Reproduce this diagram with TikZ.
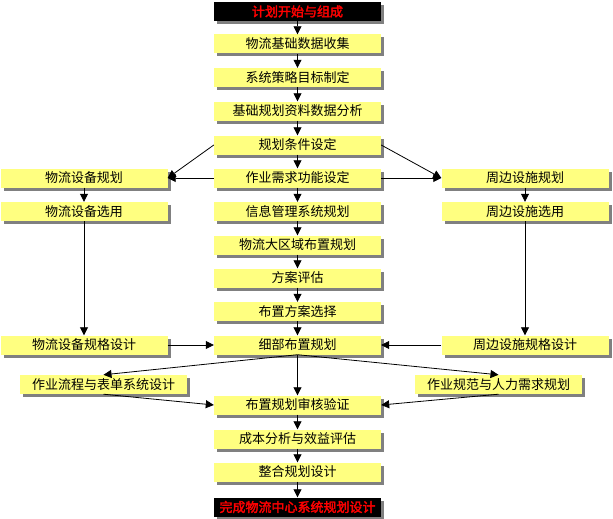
\documentclass[tikz,border=0pt]{standalone}
\usepackage{fontspec}
\newfontfamily\cjk{Noto Sans CJK SC}
\newfontfamily\cjkbold[FakeBold=2.5]{Noto Sans CJK SC}
\usetikzlibrary{arrows.meta,shadows}
\definecolor{boxyellow}{HTML}{FFFF80}
\definecolor{titlered}{HTML}{FF0000}

\begin{document}
\begin{tikzpicture}[x=1pt,y=-1pt,
    box/.style={fill=boxyellow,minimum width=167pt,minimum height=19pt,inner sep=0pt,
      font=\cjk\fontsize{13}{15}\selectfont,
      drop shadow={shadow xshift=3pt,shadow yshift=-3pt,fill=black!50,opacity=1}},
    titlebox/.style={box,fill=black,text=titlered,font=\cjkbold\fontsize{13}{15}\selectfont},
    flow/.style={-{Triangle[width=8pt,length=8pt]},line width=0.8pt}]
        \useasboundingbox (0,0) rectangle (613,519);
        % main column
        \node[titlebox] (start) at (297.5,11.5) {计划开始与组成};
        \node[box] (collect) at (297.5,44) {物流基础数据收集};
        \node[box] (goal) at (297.5,77.5) {系统策略目标制定};
        \node[box] (analysis) at (297.5,111) {基础规划资料数据分析};
        \node[box] (cond) at (297.5,145) {规划条件设定};
        \node[box] (func) at (297.5,178) {作业需求功能设定};
        \node[box] (info) at (297.5,211.5) {信息管理系统规划};
        \node[box] (zone) at (297.5,245) {物流大区域布置规划};
        \node[box] (eval) at (297.5,278) {方案评估};
        \node[box] (choose) at (297.5,311.5) {布置方案选择};
        \node[box] (detail) at (297.5,345) {细部布置规划};
        \node[box] (check) at (297.5,405) {布置规划审核验证};
        \node[box] (cost) at (297.5,439) {成本分析与效益评估};
        \node[box] (merge) at (297.5,472) {整合规划设计};
        \node[titlebox] (done) at (297.5,507) {完成物流中心系统规划设计};
        % side columns
        \node[box] (eqplan) at (84,178) {物流设备规划};
        \node[box] (eqsel) at (84,211.5) {物流设备选用};
        \node[box] (eqspec) at (84,345) {物流设备规格设计};
        \node[box] (faplan) at (525,178) {周边设施规划};
        \node[box] (fasel) at (525,211.5) {周边设施选用};
        \node[box] (faspec) at (525,345) {周边设施规格设计};
        \node[box] (flowform) at (103.5,384.5) {作业流程与表单系统设计};
        \node[box] (staff) at (498.5,384.5) {作业规范与人力需求规划};
        % arrows down the middle
        \draw[flow] (start)--(collect);
        \draw[flow] (collect)--(goal);
        \draw[flow] (goal)--(analysis);
        \draw[flow] (analysis)--(cond);
        \draw[flow] (cond)--(func);
        \draw[flow] (func)--(info);
        \draw[flow] (info)--(zone);
        \draw[flow] (zone)--(eval);
        \draw[flow] (eval)--(choose);
        \draw[flow] (choose)--(detail);
        \draw[flow] (detail)--(check);
        \draw[flow] (check)--(cost);
        \draw[flow] (cost)--(merge);
        \draw[flow] (merge)--(done);
        % branches
        \draw[flow] (cond.west)--(eqplan.east);
        \draw[flow] (func.west)--(eqplan.east);
        \draw[flow] (cond.east)--(faplan.west);
        \draw[flow] (func.east)--(faplan.west);
        \draw[flow] (eqplan)--(eqsel);
        \draw[flow] (eqsel)--(eqspec);
        \draw[flow] (faplan)--(fasel);
        \draw[flow] (fasel)--(faspec);
        \draw[flow] (eqspec)--(detail);
        \draw[flow] (faspec)--(detail);
        \draw[flow] (detail.south)--(flowform.north);
        \draw[flow] (detail.south)--(staff.north);
        \draw[flow] (flowform.south)--(check.west);
        \draw[flow] (staff.south)--(check.east);
      \end{tikzpicture}
\end{document}
